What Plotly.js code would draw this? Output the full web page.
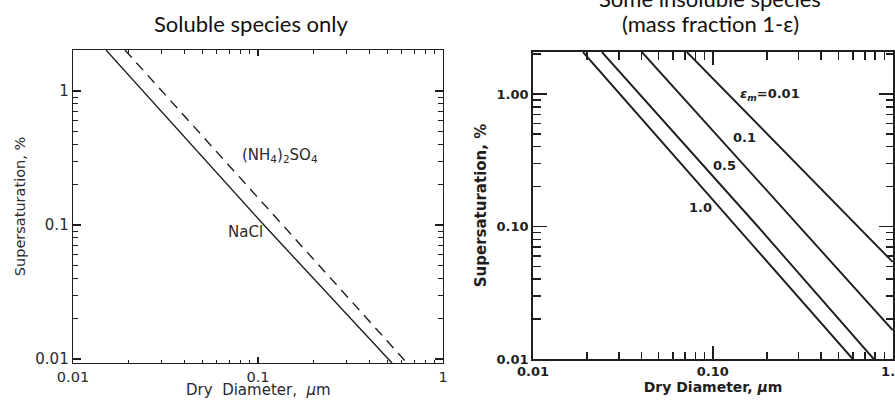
<!DOCTYPE html>
<html>
<head>
<meta charset="utf-8">
<script src="https://cdn.plot.ly/plotly-3.0.1.min.js"></script>
<style>html,body{margin:0;padding:0;background:#fff;}#chart{width:895px;height:400px;}</style>
</head>
<body>
<div id="chart"></div>
<script>
// ---- Data (dry diameter in µm, supersaturation in %) ----
const naclDiameter = [0.01508, 0.1076, 0.530];
const naclSuper    = [2.02, 0.100, 0.00933];
const amsDiameter  = [0.0191, 0.1365, 0.639];
const amsSuper     = [2.02, 0.100, 0.00933];

const eps100Diameter = [0.01896, 0.136, 0.5995];
const eps100Super    = [2.075, 0.100, 0.0100];
const eps050Diameter = [0.02417, 0.178, 0.7843];
const eps050Super    = [2.075, 0.100, 0.0100];
const eps010Diameter = [0.04031, 0.304, 1.0];
const eps010Super    = [2.075, 0.100, 0.01655];
const eps001Diameter = [0.07171, 0.639, 1.0];
const eps001Super    = [2.075, 0.100, 0.0540];

const majorTicks = [0.01, 0.1, 1];
const leftTickText = ['0.01', '0.1', '1'];
const rightXTickText = ['0.01', '0.10', '1.0'];
const rightYTickText = ['0.01', '0.10', '1.00'];
const minorTicks = [0.02,0.03,0.04,0.05,0.06,0.07,0.08,0.09,0.2,0.3,0.4,0.5,0.6,0.7,0.8,0.9,2,3];

const ink = '#1e1e1e';
const leftFont = {family: 'DejaVu Sans', size: 15, color: '#2a2a2a'};
const rightFont = {family: 'DejaVu Sans', size: 13, color: ink, weight: 'bold'};

const traces = [
  {x: naclDiameter, y: naclSuper, xaxis: 'x', yaxis: 'y', mode: 'lines', name: 'NaCl',
   line: {color: ink, width: 1.4}},
  {x: amsDiameter, y: amsSuper, xaxis: 'x', yaxis: 'y', mode: 'lines', name: '(NH4)2SO4',
   line: {color: ink, width: 1.4, dash: '10px,7px'}},
  {x: eps100Diameter, y: eps100Super, xaxis: 'x2', yaxis: 'y2', mode: 'lines', name: '1.0',
   line: {color: ink, width: 1.9}},
  {x: eps050Diameter, y: eps050Super, xaxis: 'x2', yaxis: 'y2', mode: 'lines', name: '0.5',
   line: {color: ink, width: 1.9}},
  {x: eps010Diameter, y: eps010Super, xaxis: 'x2', yaxis: 'y2', mode: 'lines', name: '0.1',
   line: {color: ink, width: 1.9}},
  {x: eps001Diameter, y: eps001Super, xaxis: 'x2', yaxis: 'y2', mode: 'lines', name: '0.01',
   line: {color: ink, width: 1.9}}
];

function axis(opts) {
  return Object.assign({
    type: 'log', showgrid: false, zeroline: false, showline: true, mirror: 'ticks',
    linecolor: ink, ticks: 'inside', tickcolor: ink, tickmode: 'array',
    tickvals: majorTicks, automargin: false, fixedrange: true, ticklabeloverflow: 'allow'
  }, opts);
}

const layout = {
  width: 895, height: 400,
  margin: {l: 0, r: 0, t: 0, b: 0},
  paper_bgcolor: '#fff', plot_bgcolor: '#fff',
  showlegend: false,
  xaxis: axis({domain: [73/895, 443/895], range: [-2, 0], anchor: 'y',
    ticktext: leftTickText, ticklen: 6, tickwidth: 1.1, linewidth: 1.3,
    tickfont: Object.assign({}, leftFont, {size: 14.5}),
    minor: {tickvals: minorTicks, ticks: 'inside', ticklen: 3.5, tickwidth: 1, tickcolor: ink}}),
  yaxis: axis({domain: [37/400, 350/400], range: [-2.03, 0.306], anchor: 'x',
    ticktext: leftTickText, ticklen: 8, tickwidth: 1.1, linewidth: 1.3,
    tickfont: leftFont,
    minor: {tickvals: minorTicks, ticks: 'inside', ticklen: 5, tickwidth: 1, tickcolor: ink},
    title: {text: 'Supersaturation, %', font: Object.assign({}, leftFont, {size: 14.5}), standoff: 6}}),
  xaxis2: axis({domain: [533/895, 893/895], range: [-2, 0.002], anchor: 'y2',
    ticktext: rightXTickText, ticklen: 13, tickwidth: 1.6, linewidth: 1.8,
    tickfont: rightFont,
    minor: {tickvals: minorTicks, ticks: 'inside', ticklen: 7.5, tickwidth: 1.5, tickcolor: ink},
    title: {text: 'Dry Diameter, <i>µ</i>m', font: Object.assign({}, rightFont, {size: 14}), standoff: 2}}),
  yaxis2: axis({domain: [41/400, 348/400], range: [-2, 0.317], anchor: 'x2',
    ticktext: rightYTickText, ticklen: 14, tickwidth: 1.6, linewidth: 1.8,
    tickfont: rightFont,
    minor: {tickvals: minorTicks, ticks: 'inside', ticklen: 7.5, tickwidth: 1.5, tickcolor: ink},
    title: {text: 'Supersaturation, %', font: Object.assign({}, rightFont, {size: 15}), standoff: 6}}),
  annotations: [
    {xref: 'paper', yref: 'paper', x: 252/895, y: 1 - 23/400, xanchor: 'center', yanchor: 'middle',
     text: 'Soluble species only', showarrow: false,
     font: {family: 'Lato', size: 22, color: '#111'}},
    {xref: 'paper', yref: 'paper', x: 710/895, y: 1 + 2/400, xanchor: 'center', yanchor: 'middle',
     text: 'Some insoluble species', showarrow: false,
     font: {family: 'Lato', size: 22, color: '#111'}},
    {xref: 'paper', yref: 'paper', x: 710/895, y: 1 - 23/400, xanchor: 'center', yanchor: 'middle',
     text: '(mass fraction 1-ε)', showarrow: false,
     font: {family: 'Lato', size: 22, color: '#111'}},
    {xref: 'paper', yref: 'paper', x: 258/895, y: 0, xanchor: 'center', yanchor: 'bottom',
     text: 'Dry  Diameter,  <i>µ</i>m', showarrow: false, font: leftFont, borderpad: 0},
    {xref: 'x', yref: 'y', x: -0.881, y: -0.478, xanchor: 'center', yanchor: 'middle',
     text: '(NH<sub>4</sub>)<sub>2</sub>SO<sub>4</sub>', showarrow: false, font: leftFont},
    {xref: 'x', yref: 'y', x: -1.065, y: -1.052, xanchor: 'center', yanchor: 'middle',
     text: 'NaCl', showarrow: false, font: leftFont},
    {xref: 'x2', yref: 'y2', x: -0.861, y: 0.0, xanchor: 'left', yanchor: 'middle',
     text: '<i>ε</i><sub><i>m</i></sub>=0.01', showarrow: false, font: rightFont},
    {xref: 'x2', yref: 'y2', x: -0.822, y: -0.332, xanchor: 'center', yanchor: 'middle',
     text: '0.1', showarrow: false, font: rightFont},
    {xref: 'x2', yref: 'y2', x: -0.933, y: -0.536, xanchor: 'center', yanchor: 'middle',
     text: '0.5', showarrow: false, font: rightFont},
    {xref: 'x2', yref: 'y2', x: -1.067, y: -0.853, xanchor: 'center', yanchor: 'middle',
     text: '1.0', showarrow: false, font: rightFont}
  ]
};

Plotly.newPlot('chart', traces, layout, {staticPlot: true, displayModeBar: false});
</script>
</body>
</html>
